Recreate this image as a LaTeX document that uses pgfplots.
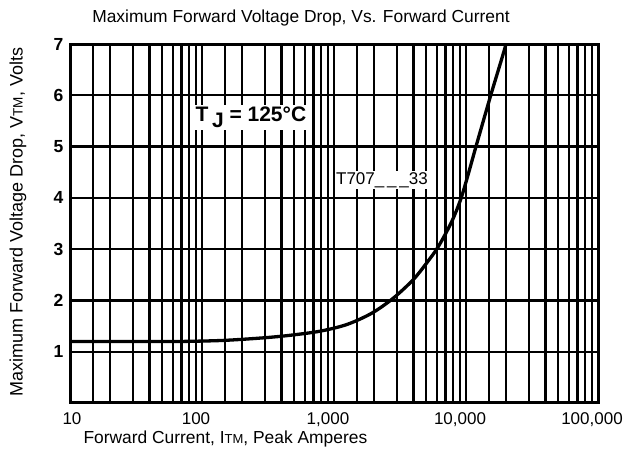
\documentclass[border=0pt]{standalone}
\usepackage{pgfplots}
\pgfplotsset{compat=1.18}
\usepackage{fontspec}
\setmainfont{Liberation Sans}
\begin{document}
\begin{tikzpicture}[x=1pt,y=1pt]
\path[use as bounding box] (-70,-47) rectangle (560,403);
\begin{axis}[
  at={(0,0)}, anchor=south west,
  scale only axis, width=528pt, height=359pt,
  xmode=log, log basis x=10,
  xmin=10, xmax=100000, ymin=0, ymax=7,
  xtick={10,100,1000,10000,100000},
  xticklabels={{\kern16pt 10},100,{1,000},{10,000},{100,000}},
  minor xtick={15,20,30,40,50,60,70,80,90,150,200,300,400,500,600,700,800,900,1500,2000,3000,4000,5000,6000,7000,8000,9000,15000,20000,30000,40000,50000,60000,70000,80000,90000},
  ytick={1,2,3,4,5,6,7},
  grid=both,
  major grid style={black, line width=2.2pt},
  minor grid style={black, line width=2.2pt},
  major tick length=0pt, minor tick length=0pt,
  axis line style={line width=3pt},
  /pgf/number format/assume math mode=true,
  xticklabel style={font=\fontsize{17}{20}\selectfont, xshift=-6pt, yshift=-6pt},
  yticklabel style={font=\bfseries\fontsize{17.5}{20}\selectfont, xshift=-3pt},
  title={Maximum Forward Voltage Drop, Vs. Forward Current},
  title style={at={(axis description cs:0.4375,1)}, anchor=base, yshift=16pt, font=\fontsize{17.4}{20}\selectfont},
  xlabel={Forward Current, I{\fontsize{13}{15}\selectfont TM}, Peak Amperes},
  xlabel style={at={(axis description cs:0,0)}, anchor=base west, xshift=10pt, yshift=-41pt, font=\fontsize{17.4}{20}\selectfont},
  ylabel={Maximum Forward Voltage Drop, V{\fontsize{13.5}{15}\selectfont TM}, Volts},
  ylabel style={at={(axis description cs:-0.0985,0.504)}, anchor=center, font=\fontsize{18}{20}\selectfont},
  clip=true,
]
\addplot[black, line width=3.3pt, smooth] coordinates {
(10,1.20) (30,1.20) (68,1.20) (144,1.22) (290,1.27) (464,1.32) (783,1.40)
(1250,1.53) (1930,1.75) (2800,2.04) (3970,2.40) (5000,2.72) (6000,3.00)
(7000,3.30) (8000,3.60) (9200,4.00) (10500,4.50) (11900,5.00) (15400,6.00) (20100,7.00) (21500,7.4)
};
\node[fill=white, inner sep=2pt, font=\bfseries\fontsize{21}{24}\selectfont] at (axis cs:235,5.57) {T\,\raisebox{-6pt}{J} = 125°C};
\node[fill=white, inner sep=1.5pt, font=\fontsize{17}{19}\selectfont] at (axis cs:2310,4.35) {T707\_\,\_\,\_33};
\end{axis}
\end{tikzpicture}
\end{document}
